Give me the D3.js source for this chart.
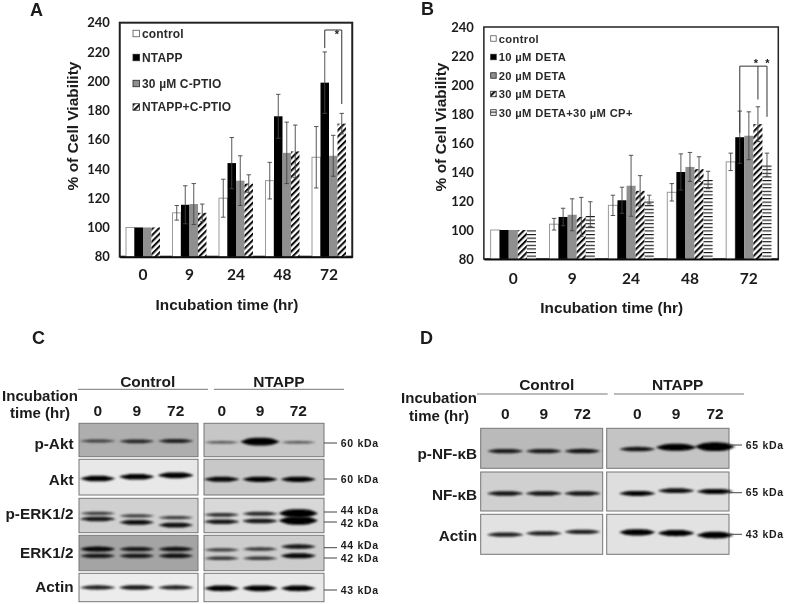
<!DOCTYPE html>
<html>
<head>
<meta charset="utf-8">
<script src="https://cdn.jsdelivr.net/npm/d3@7"></script>
<style>
  html, body { margin: 0; padding: 0; background: #fff; }
  svg { display: block; }
  text { font-family: "Liberation Sans", Arial, sans-serif; font-weight: bold; fill: #1a1a1a; }
  .num text, text.num { font-family: Lato, sans-serif; }
</style>
</head>
<body>
<div id="chart"></div>
<script>
// chart data
var hours = ["0", "9", "24", "48", "72"];
var yTicks = [80, 100, 120, 140, 160, 180, 200, 220, 240];

var namesA = ["control", "NTAPP", "30 µM C-PTIO", "NTAPP+C-PTIO"];
var controlA = [100, 110, 120, 132, 148];
var ntappA = [100, 115.5, 144, 176, 199];
var cptioA = [100, 116, 132, 151, 149];
var bothA = [100, 110, 130, 152, 171];
var controlErrA = [0, 5, 13, 12.5, 21];
var ntappErrA = [0, 13, 17.5, 15, 21];
var cptioErrA = [0, 14, 17, 21, 14];
var bothErrA = [0, 6, 6, 18, 7];

var namesB = ["control", "10 µM DETA", "20 µM DETA", "30 µM DETA", "30 µM DETA+30 µM CP+"];
var controlB = [100, 104, 117, 126, 147];
var deta10B = [100, 109, 120.5, 140, 164];
var deta20B = [100, 110.5, 130.5, 143.5, 165];
var deta30B = [100, 109, 127, 142, 173];
var detaCpB = [100, 111, 121, 134.5, 145];
var controlErrB = [0, 4, 7, 6, 6];
var deta10ErrB = [0, 6, 9, 12.5, 18];
var deta20ErrB = [0, 11, 21, 10, 16.5];
var deta30ErrB = [0, 13.5, 10.5, 8.5, 12];
var detaCpErrB = [0, 8.5, 3, 6, 8];

// blot band strength per lane (control lanes, then NTAPP lanes)
var lanes = ["0", "9", "72"];
var pAkt = [0.3, 0.45, 0.5, 0.2, 1.25, 0.2];
var akt = [0.8, 0.8, 0.85, 0.7, 0.75, 0.75];
var pErk44 = [0.35, 0.35, 0.35, 0.45, 0.5, 1.35];
var pErk42 = [0.6, 0.65, 0.65, 0.6, 0.6, 1.35];
var erk44 = [0.7, 0.55, 0.6, 0.35, 0.4, 0.6];
var erk42 = [0.55, 0.55, 0.6, 0.4, 0.4, 0.7];
var actinC = [0.55, 0.6, 0.55, 0.8, 0.85, 0.8];
var pNfkb = [0.55, 0.55, 0.6, 0.6, 1.1, 1.4];
var nfkb = [0.6, 0.6, 0.6, 0.7, 0.65, 0.7];
var actinD = [0.55, 0.55, 0.55, 0.95, 0.9, 1.0];

var width = 787, height = 604;
var svg = d3.select("#chart").append("svg").attr("width", width).attr("height", height);
var defs = svg.append("defs");

// hatches for the bars
function hatch(id, size, sw, rotate) {
    var p = defs.append("pattern")
        .attr("id", id)
        .attr("patternUnits", "userSpaceOnUse")
        .attr("width", size).attr("height", size)
        .attr("patternTransform", "rotate(" + rotate + ")");
    p.append("rect").attr("width", size).attr("height", size).attr("fill", "#fff");
    p.append("rect").attr("width", size).attr("height", sw).attr("fill", "#111");
}
hatch("diag", 4.4, 2.1, -45);
hatch("horz", 3.6, 1.1, 0);

defs.append("filter").attr("id", "blur").attr("x", "-20%").attr("y", "-60%").attr("width", "140%").attr("height", "220%")
    .append("feGaussianBlur").attr("stdDeviation", 0.9);

// the whole figure is a soft, resampled image
defs.append("filter").attr("id", "soft")
    .attr("filterUnits", "userSpaceOnUse")
    .attr("x", 0).attr("y", 0).attr("width", width).attr("height", height)
    .append("feGaussianBlur").attr("stdDeviation", 0.35);
var root = svg.append("g").attr("filter", "url(#soft)");

function barChart(o) {
    var g = root.append("g");
    var y = d3.scaleLinear().domain([80, 240]).range([o.bottom, o.top]);
    var xGroup = d3.scaleBand().domain(hours).range([o.left, o.right]);
    var total = o.barWidth * o.series.length;
    var pad = (xGroup.bandwidth() - total) / 2;
    var xBar = d3.scaleBand().domain(d3.range(o.series.length)).range([pad, pad + total]);

    // plot box
    g.append("rect")
        .attr("x", o.left).attr("y", o.top)
        .attr("width", o.right - o.left).attr("height", o.bottom - o.top)
        .attr("fill", "none").attr("stroke", "#222").attr("stroke-width", o.boxWidth);

    // bars
    o.series.forEach(function (s, i) {
        g.selectAll(null).data(s.values).enter().append("rect")
            .attr("x", function (d, j) { return xGroup(hours[j]) + xBar(i); })
            .attr("y", function (d) { return y(d); })
            .attr("width", xBar.bandwidth())
            .attr("height", function (d) { return y(80) - y(d); })
            .attr("fill", s.fill)
            .attr("stroke", s.stroke)
            .attr("stroke-width", s.stroke === "none" ? 0 : 1);
    });

    // error bars
    o.series.forEach(function (s, i) {
        var err = g.selectAll(null).data(s.values).enter().append("g")
            .attr("transform", function (d, j) {
                return "translate(" + (xGroup(hours[j]) + xBar(i) + xBar.bandwidth() / 2) + ",0)";
            })
            .filter(function (d, j) { return s.err[j] > 0; });
        err.append("path")
            .attr("fill", "none").attr("stroke", "#444").attr("stroke-width", 0.9)
            .attr("d", function (d) {
                var j = s.values.indexOf(d);
                var hi = y(d + s.err[j]), lo = y(d - s.err[j]);
                return "M-2.2," + hi + "H2.2M0," + hi + "V" + lo + "M-2.2," + lo + "H2.2";
            });
    });

    // axes
    var yAxis = d3.axisLeft(y).tickValues(yTicks).tickSize(0).tickPadding(o.tickPad);
    var gy = g.append("g").attr("class", "num").attr("transform", "translate(" + o.left + ",0)").call(yAxis);
    gy.select(".domain").remove();
    gy.selectAll("text").style("font-size", "13px").attr("fill", "#1a1a1a");

    var xAxis = d3.axisBottom(xGroup).tickSize(0).tickPadding(o.xPad);
    var gx = g.append("g").attr("class", "num").attr("transform", "translate(0," + o.bottom + ")").call(xAxis);
    gx.select(".domain").attr("stroke", "#111").attr("stroke-width", 2);
    gx.selectAll("text").style("font-size", "15.5px").attr("fill", "#1a1a1a");

    // axis titles
    g.append("text")
        .attr("transform", "translate(" + o.yTitleX + "," + o.yTitleY + ") rotate(-90)")
        .attr("text-anchor", "middle")
        .style("font-size", "15.5px")
        .text("% of Cell Viability");
    g.append("text")
        .attr("x", o.xTitleX).attr("y", o.xTitleY)
        .attr("text-anchor", "middle")
        .style("font-size", "15.3px")
        .text("Incubation time (hr)");

    // legend
    o.series.forEach(function (s, i) {
        var ly = o.legendY[i];
        g.append("rect")
            .attr("x", o.legendX).attr("y", ly - o.swatch / 2)
            .attr("width", o.swatch).attr("height", o.swatch)
            .attr("fill", s.fill).attr("stroke", s.stroke === "none" ? "#222" : "#555").attr("stroke-width", 0.8);
        g.append("text")
            .attr("x", o.legendX + o.swatch + 2.5).attr("y", ly)
            .attr("dy", "0.36em")
            .style("font-size", o.legendFont + "px")
            .style("letter-spacing", o.legendSpacing + "px")
            .style("fill", "#2a2a2a")
            .text(s.name);
    });

    // significance bracket, ends given on the value axis
    o.brackets.forEach(function (b) {
        var xAt = function (i) { return xGroup("72") + xBar(i) + xBar.bandwidth() * b.frac; };
        var d = "M" + xAt(b.from) + "," + y(b.fromEnd) + "V" + y(b.top) + "H" + xAt(b.to) + "V" + y(b.toEnd);
        if (b.mid !== undefined) d += "M" + xAt(b.mid) + "," + y(b.top) + "V" + y(b.midEnd);
        g.append("path").attr("d", d).attr("fill", "none").attr("stroke", "#333").attr("stroke-width", 1);
        b.stars.forEach(function (st) {
            g.append("text").attr("x", st[0]).attr("y", st[1]).attr("text-anchor", "middle")
                .style("font-size", "11px").text("*");
        });
    });
}

barChart({
    left: 119.75, right: 352.25, top: 22.7, bottom: 256.7,
    barWidth: 8.5, tickPad: 10, xPad: 12, boxWidth: 2,
    yTitleX: 78, yTitleY: 126, xTitleX: 227, xTitleY: 310,
    legendX: 133, legendY: [33.5, 57.5, 83.5, 107], swatch: 6.5, legendFont: 12, legendSpacing: 0.15,
    series: [
        { name: namesA[0], values: controlA, err: controlErrA, fill: "#fff", stroke: "#999" },
        { name: namesA[1], values: ntappA, err: ntappErrA, fill: "#000", stroke: "none" },
        { name: namesA[2], values: cptioA, err: cptioErrA, fill: "#8f8f8f", stroke: "none" },
        { name: namesA[3], values: bothA, err: bothErrA, fill: "url(#diag)", stroke: "none" }
    ],
    brackets: [{ from: 1, to: 3, top: 235, fromEnd: 222.7, toEnd: 184.4, frac: 0.5, stars: [[337, 38]] }]
});

barChart({
    left: 483.85, right: 778.3, top: 27, bottom: 259,
    barWidth: 9.07, tickPad: 10, xPad: 14, boxWidth: 1.5,
    yTitleX: 446, yTitleY: 127, xTitleX: 611.7, xTitleY: 313,
    legendX: 490.7, legendY: [38.5, 57, 75.5, 94, 112.5], swatch: 5.5, legendFont: 11.2, legendSpacing: 0.35,
    series: [
        { name: namesB[0], values: controlB, err: controlErrB, fill: "#fff", stroke: "#999" },
        { name: namesB[1], values: deta10B, err: deta10ErrB, fill: "#000", stroke: "none" },
        { name: namesB[2], values: deta20B, err: deta20ErrB, fill: "#8f8f8f", stroke: "none" },
        { name: namesB[3], values: deta30B, err: deta30ErrB, fill: "url(#diag)", stroke: "none" },
        { name: namesB[4], values: detaCpB, err: detaCpErrB, fill: "url(#horz)", stroke: "none" }
    ],
    brackets: [{ from: 1, to: 4, top: 213, fromEnd: 167, toEnd: 178, mid: 3, midEnd: 190, frac: 0.5, stars: [[756, 67], [767.5, 67]] }]
});

// a band is a flat strip that tapers to its ends
var bandProfile = [0, 0.55, 0.9, 1, 1, 1, 0.9, 0.55, 0];
var bandArea = d3.area()
    .x(function (d) { return d.x; })
    .y0(function (d) { return d.cy - d.h; })
    .y1(function (d) { return d.cy + d.h; })
    .curve(d3.curveBasis);

// western blot panels. Layout is kept apart from the band strengths.
function blotPanel(o) {
    var g = root.append("g");
    var laneX = [
        d3.scalePoint().domain(lanes).range(o.laneRange[0]),
        d3.scalePoint().domain(lanes).range(o.laneRange[1])
    ];
    o.rows.forEach(function (r) {
        var y = d3.scaleLinear().domain([0, 1]).range([r.y0, r.y1]);
        o.blots.forEach(function (b, k) {
            g.append("rect")
                .attr("x", b[0]).attr("y", r.y0)
                .attr("width", b[1] - b[0]).attr("height", r.y1 - r.y0)
                .attr("fill", r.bg[k]).attr("stroke", "#777").attr("stroke-width", 1);
        });
        r.tracks.forEach(function (t) {
            t.levels.forEach(function (lv, i) {
                var k = i < 3 ? 0 : 1;
                var cx = laneX[k](lanes[i % 3]);
                var halfWidth = o.bandRx + (lv > 1 ? 2 : 0);
                var halfHeight = 0.7 + lv * o.bandRy;
                var pts = bandProfile.map(function (f, n) {
                    return {
                        x: cx - halfWidth + 2 * halfWidth * n / (bandProfile.length - 1),
                        cy: y(t.pos[i]),
                        h: f * halfHeight
                    };
                });
                g.append("path")
                    .attr("d", bandArea(pts))
                    .attr("fill", "#050505")
                    .attr("opacity", Math.min(1, 0.45 + lv * 0.75))
                    .attr("filter", "url(#blur)");
            });
        });
        g.append("text")
            .attr("x", o.rowLabelX).attr("y", r.labelY)
            .attr("dy", "0.36em").attr("text-anchor", "end")
            .style("font-size", "15.3px")
            .text(r.name);
    });

    // group headers and lane numbers
    o.groups.forEach(function (gr, k) {
        g.append("text").attr("x", gr.cx).attr("y", o.groupY).attr("dy", "0.36em")
            .attr("text-anchor", "middle").style("font-size", "15.5px").text(gr.name);
        g.append("line").attr("x1", gr.x0).attr("x2", gr.x1).attr("y1", o.groupLine).attr("y2", o.groupLine)
            .attr("stroke", "#777").attr("stroke-width", 1);
        lanes.forEach(function (l) {
            g.append("text").attr("x", laneX[k](l)).attr("y", o.laneY).attr("dy", "0.36em")
                .attr("text-anchor", "middle").style("font-size", "15.5px").text(l);
        });
    });
    g.append("text").attr("x", o.incX).attr("y", o.incY[0]).attr("dy", "0.36em")
        .attr("text-anchor", "middle").style("font-size", "15px").text("Incubation");
    g.append("text").attr("x", o.incX).attr("y", o.incY[1]).attr("dy", "0.36em")
        .attr("text-anchor", "middle").style("font-size", "15px").text("time (hr)");

    // marker labels
    o.markers.forEach(function (m) {
        g.append("line").attr("x1", o.blots[1][1]).attr("x2", o.markerLineEnd).attr("y1", m[0]).attr("y2", m[0])
            .attr("stroke", "#444").attr("stroke-width", 1);
        g.append("text").attr("x", o.markerX).attr("y", m[2] || m[0]).attr("dy", "0.36em")
            .style("font-size", "10.5px").style("letter-spacing", "0.7px").text(m[1]);
    });
}

blotPanel({
    blots: [[79, 198], [204, 324]],
    laneRange: [[97.7, 175.7], [221.7, 298.3]],
    bandRx: 18, bandRy: 2.6,
    rowLabelX: 73.5,
    groups: [
        { name: "Control", cx: 147.7, x0: 78, x1: 208 },
        { name: "NTAPP", cx: 279, x0: 214, x1: 344 }
    ],
    groupY: 381.7, groupLine: 389.3, laneY: 410,
    incX: 40, incY: [395.7, 413],
    markerX: 340.7, markerLineEnd: 337,
    markers: [[443, "60 kDa"], [479, "60 kDa"], [512, "44 kDa", 510.2], [522, "42 kDa", 522.8], [547.7, "44 kDa", 545.6], [558, "42 kDa", 558.2], [590, "43 kDa"]],
    rows: [
        { name: "p-Akt", y0: 423.3, y1: 456.7, labelY: 443, bg: ["#aeaeae", "#c6c6c6"],
          tracks: [{ levels: pAkt, pos: [0.53, 0.54, 0.53, 0.57, 0.55, 0.57] }] },
        { name: "Akt", y0: 459.3, y1: 495, labelY: 479, bg: ["#e8e8e8", "#c8c8c8"],
          tracks: [{ levels: akt, pos: [0.54, 0.49, 0.45, 0.56, 0.56, 0.56] }] },
        { name: "p-ERK1/2", y0: 498.3, y1: 532.7, labelY: 513, bg: ["#d0d0d0", "#d8d8d8"],
          tracks: [
              { levels: pErk44, pos: [0.44, 0.51, 0.56, 0.48, 0.45, 0.44] },
              { levels: pErk42, pos: [0.6, 0.7, 0.78, 0.68, 0.66, 0.65] }
          ] },
        { name: "ERK1/2", y0: 535.3, y1: 570.7, labelY: 552, bg: ["#a4a4a4", "#cccccc"],
          tracks: [
              { levels: erk44, pos: [0.39, 0.39, 0.39, 0.41, 0.39, 0.32] },
              { levels: erk42, pos: [0.58, 0.58, 0.58, 0.65, 0.65, 0.58] }
          ] },
        { name: "Actin", y0: 573.3, y1: 601.7, labelY: 586.7, bg: ["#ececec", "#e8e8e8"],
          tracks: [{ levels: actinC, pos: [0.5, 0.5, 0.5, 0.53, 0.53, 0.53] }] }
    ]
});

blotPanel({
    blots: [[480.7, 602.7], [606.7, 729]],
    laneRange: [[505.3, 582.3], [637.3, 715]],
    bandRx: 18.5, bandRy: 2.6,
    rowLabelX: 477,
    groups: [
        { name: "Control", cx: 546.7, x0: 477, x1: 607.7 },
        { name: "NTAPP", cx: 677.7, x0: 614, x1: 744 }
    ],
    groupY: 384, groupLine: 394, laneY: 413,
    incX: 439, incY: [397.7, 415.7],
    markerX: 745.7, markerLineEnd: 742,
    markers: [[445, "65 kDa"], [492.7, "65 kDa"], [534.3, "43 kDa"]],
    rows: [
        { name: "p-NF-κB", y0: 428.3, y1: 468.3, labelY: 453, bg: ["#bababa", "#c4c4c4"],
          tracks: [{ levels: pNfkb, pos: [0.57, 0.57, 0.57, 0.52, 0.475, 0.46] }] },
        { name: "NF-κB", y0: 472, y1: 511, labelY: 494, bg: ["#d0d0d0", "#dedede"],
          tracks: [{ levels: nfkb, pos: [0.55, 0.55, 0.55, 0.55, 0.48, 0.5] }] },
        { name: "Actin", y0: 514.3, y1: 554.3, labelY: 535, bg: ["#e2e2e2", "#e2e2e2"],
          tracks: [{ levels: actinD, pos: [0.51, 0.475, 0.44, 0.45, 0.47, 0.52] }] }
    ]
});

// panel letters
[["A", 30, 10], ["B", 421, 9], ["C", 32, 338], ["D", 420, 338]].forEach(function (p) {
    root.append("text").attr("x", p[1]).attr("y", p[2]).attr("dy", "0.36em")
        .attr("text-anchor", "start").style("font-size", "18px").text(p[0]);
});
</script>
</body>
</html>
